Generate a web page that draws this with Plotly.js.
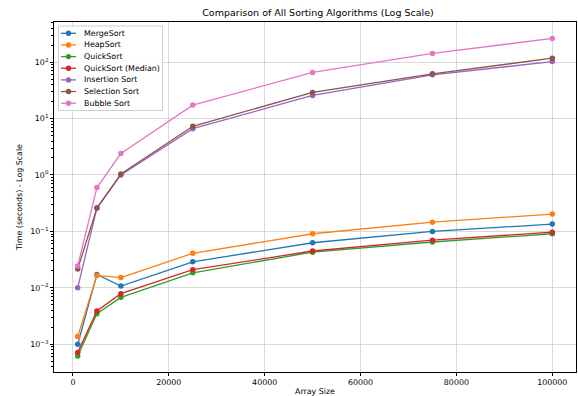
<!DOCTYPE html>
<html>
<head>
<meta charset="utf-8">
<script src="https://cdn.plot.ly/plotly-3.0.1.min.js"></script>
<style>html,body{margin:0;padding:0;background:#fff;}#chart{width:578px;height:396px;}</style>
</head>
<body>
<div id="chart"></div>
<script>
const sizes = [1000, 5000, 10000, 25000, 50000, 75000, 100000];
const mergeSort = [0.0010, 0.0173, 0.0108, 0.029, 0.063, 0.100, 0.135];
const heapSort = [0.00138, 0.0166, 0.0152, 0.041, 0.091, 0.146, 0.203];
const quickSort = [0.00062, 0.0035, 0.0068, 0.0185, 0.043, 0.065, 0.091];
const quickSortMedian = [0.00072, 0.0039, 0.0079, 0.021, 0.045, 0.070, 0.097];
const insertionSort = [0.0101, 0.26, 1.0, 6.6, 25.7, 59.5, 102];
const selectionSort = [0.0216, 0.26, 1.04, 7.3, 29, 62, 117];
const bubbleSort = [0.0245, 0.60, 2.4, 17.3, 65.7, 142, 262];
const names = ["MergeSort", "HeapSort", "QuickSort", "QuickSort (Median)", "Insertion Sort", "Selection Sort", "Bubble Sort"];
const series = [mergeSort, heapSort, quickSort, quickSortMedian, insertionSort, selectionSort, bubbleSort];
const colors = ["#1f77b4", "#ff7f0e", "#2ca02c", "#d62728", "#9467bd", "#8c564b", "#e377c2"];
const yTickVals = [0.001, 0.01, 0.1, 1, 10, 100];
const yTickText = ["10<sup>\u22123</sup>", "10<sup>\u22122</sup>", "10<sup>\u22121</sup>", "10<sup>0</sup>", "10<sup>1</sup>", "10<sup>2</sup>"];
const xTickVals = [0, 20000, 40000, 60000, 80000, 100000];

const traces = series.map((s, i) => ({
  x: sizes, y: s, name: names[i], type: "scatter", mode: "lines+markers",
  line: {color: colors[i], width: 1.3},
  marker: {color: colors[i], size: 5.5},
  showlegend: false
}));

const minorVals = [];
for (let e = -4; e <= 2; e++) for (let m = 2; m <= 9; m++) minorVals.push(m * Math.pow(10, e));

// plot area in pixels (for the hand-built legend)
const W = 578, H = 396, ML = 54, MR = 2, MT = 22, MB = 24;
const pw = W - ML - MR, ph = H - MT - MB;
const px = v => (v - ML) / pw;
const py = v => 1 - (v - MT) / ph;

const FS = 7.9;
const shapes = [];
const annotations = [];
// legend box
shapes.push({type: "rect", xref: "paper", yref: "paper", x0: px(58.5), x1: px(162.5), y0: py(26), y1: py(110.5),
  line: {color: "#d0d0d0", width: 1}, fillcolor: "rgba(255,255,255,0.85)", layer: "above"});
names.forEach((n, i) => {
  const yc = 33.3 + i * 11.65;
  shapes.push({type: "line", xref: "paper", yref: "paper", x0: px(61), x1: px(76), y0: py(yc), y1: py(yc),
    line: {color: colors[i], width: 1.3}, layer: "above"});
  shapes.push({type: "circle", xref: "paper", yref: "paper", x0: px(65.8), x1: px(71.2), y0: py(yc - 2.7), y1: py(yc + 2.7),
    line: {color: colors[i], width: 0}, fillcolor: colors[i], layer: "above"});
  annotations.push({xref: "paper", yref: "paper", x: px(82), y: py(yc), xanchor: "left", yanchor: "middle",
    text: n, showarrow: false, font: {family: "DejaVu Sans, sans-serif", size: FS, color: "#000"}});
});

const font = {family: "DejaVu Sans, sans-serif", size: FS, color: "#000"};
const layout = {
  width: W, height: H,
  margin: {l: ML, r: MR, t: MT, b: MB},
  paper_bgcolor: "#fff", plot_bgcolor: "#fff",
  font: font,
  showlegend: false,
  title: {text: "Comparison of All Sorting Algorithms (Log Scale)", font: {family: "DejaVu Sans, sans-serif", size: 9.5, color: "#000"}, x: 318 / W, xanchor: "center", y: 1 - 13 / H, yanchor: "middle"},
  xaxis: {
    range: [-3950, 104950], tickformat: "d", tickvals: xTickVals,
    showline: true, mirror: true, linecolor: "#000", linewidth: 1,
    ticks: "outside", ticklen: 3, tickcolor: "#000",
    showgrid: true, gridcolor: "#d0d0d0", gridwidth: 0.8, zeroline: false,
    title: {text: "Array Size", font: font, standoff: 3}
  },
  yaxis: {
    type: "log", range: [-3.49, 2.71], tickmode: "array", tickvals: yTickVals, ticktext: yTickText,
    showline: true, mirror: true, linecolor: "#000", linewidth: 1,
    ticks: "outside", ticklen: 3, tickcolor: "#000",
    showgrid: true, gridcolor: "#d0d0d0", gridwidth: 0.8, zeroline: false,
    minor: {tickmode: "array", tickvals: minorVals, ticks: "outside", ticklen: 2, tickcolor: "#000", showgrid: false},
    title: {text: "Time (seconds) - Log Scale", font: font, standoff: 6}
  },
  shapes: shapes,
  annotations: annotations
};
Plotly.newPlot("chart", traces, layout, {staticPlot: true, displayModeBar: false});
</script>
</body>
</html>
